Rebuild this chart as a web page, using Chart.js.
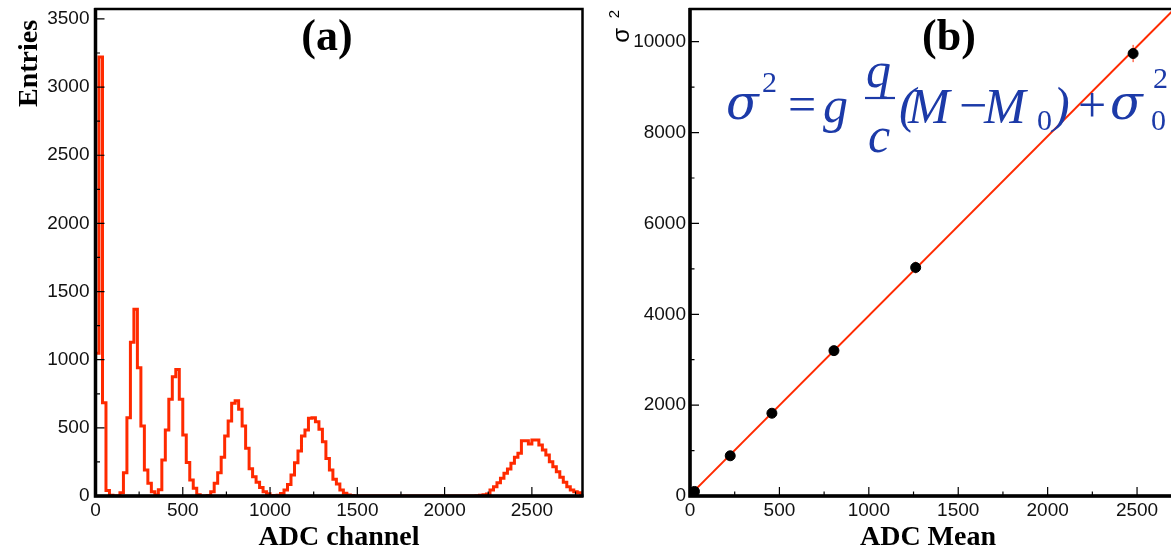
<!DOCTYPE html>
<html>
<head>
<meta charset="utf-8">
<script src="https://cdn.jsdelivr.net/npm/chart.js@4.4.1/dist/chart.umd.min.js"></script>
<style>
  html, body { margin: 0; padding: 0; background: #fff; overflow: hidden; }
  #wrap { position: relative; width: 1171px; height: 550px; overflow: hidden; }
  canvas { position: absolute; top: 0; }
  #histo { left: 0; }
  #fit { left: 600px; }
</style>
</head>
<body>
<div id="wrap">
  <canvas id="histo" width="600" height="550"></canvas>
  <canvas id="fit" width="620" height="550"></canvas>
</div>
<script>
// ---- (a) ADC spectrum: 20-channel bins starting at channel 0 ----
const binWidth = 20;
const entries = [
  1047, 3220, 685, 40, 5, 0, 0, 24, 171, 574,
  1128, 1370, 941, 514, 191, 93, 32, 7, 45, 264,
  484, 709, 875, 929, 709, 447, 245, 117, 56, 10,
  0, 0, 3, 32, 93, 171, 284, 440, 550, 680,
  699, 636, 514, 350, 200, 142, 100, 62, 32, 16,
  4, 2, 6, 18, 44, 85, 154, 244, 330, 440,
  484, 570, 575, 545, 489, 398, 276, 191, 122, 88,
  44, 20, 8, 3, 0, 0, 0, 0, 0, 0,
  0, 0, 0, 0, 0, 0, 0, 0, 0, 0,
  0, 0, 0, 0, 0, 0, 0, 0, 0, 0,
  0, 0, 0, 0, 0, 0, 0, 0, 0, 2,
  5, 10, 15, 44, 68, 98, 130, 166, 198, 240,
  284, 313, 406, 406, 382, 411, 411, 374, 337, 301,
  252, 215, 178, 137, 100, 68, 44, 32, 24, 5
];
const channelTicks = [0, 500, 1000, 1500, 2000, 2500];
const entriesTicks = [0, 500, 1000, 1500, 2000, 2500, 3000, 3500];

// ---- (b) peak variance versus peak mean, with linear fit ----
const adcMean   = [0, 25, 225, 458, 805, 1262, 2478];
const sigma2    = [0, 100, 885, 1822, 3200, 5030, 9740];
const sigma2Err = [15, 20, 40, 60, 90, 130, 190];
const fitMean   = [0, 2800];
const fitSigma2 = [20, 11080];
const meanTicks  = [0, 500, 1000, 1500, 2000, 2500];
const sigmaTicks = [0, 2000, 4000, 6000, 8000, 10000];

const RED = '#ff2a00';
const BLUE = '#1c3aa8';
const SERIF = "'Liberation Serif', 'Times New Roman', serif";
const SANS = "'Liberation Sans', Arial, sans-serif";
const GREEK = "'DejaVu Serif', 'Liberation Serif', serif";

Chart.defaults.font.family = SANS;
Chart.defaults.color = '#000';

// Box frame with ROOT-style inward tick marks
function framePlugin(xMajor, xMinorStep, yMajor, yMinorStep) {
  return {
    id: 'frame',
    afterDatasetsDraw(chart) {
      const { ctx, chartArea: a, scales: { x, y } } = chart;
      ctx.save();
      ctx.strokeStyle = '#000';
      ctx.lineWidth = 1.2;
      ctx.beginPath();
      xMajor.forEach(v => {
        const px = x.getPixelForValue(v);
        ctx.moveTo(px, a.bottom); ctx.lineTo(px, a.bottom - 9);
      });
      for (let v = xMinorStep; v < x.max; v += xMinorStep) {
        if (xMajor.includes(v)) continue;
        const px = x.getPixelForValue(v);
        ctx.moveTo(px, a.bottom); ctx.lineTo(px, a.bottom - 4.5);
      }
      yMajor.forEach(v => {
        const py = y.getPixelForValue(v);
        ctx.moveTo(a.left, py); ctx.lineTo(a.left + 9, py);
      });
      for (let v = yMinorStep; v < y.max; v += yMinorStep) {
        if (yMajor.includes(v)) continue;
        const py = y.getPixelForValue(v);
        ctx.moveTo(a.left, py); ctx.lineTo(a.left + 4.5, py);
      }
      ctx.stroke();
      ctx.lineWidth = 2.5;
      ctx.strokeRect(a.left, a.top, a.right - a.left, a.bottom - a.top);
      ctx.lineWidth = 3.5;
      ctx.beginPath();
      ctx.moveTo(a.left, a.top - 1); ctx.lineTo(a.left, a.bottom);
      ctx.lineTo(a.right + 1, a.bottom);
      ctx.stroke();
      ctx.restore();
    }
  };
}

function text(ctx, str, x, y, font, color, align) {
  ctx.font = font;
  ctx.fillStyle = color;
  ctx.textAlign = align || 'left';
  ctx.textBaseline = 'alphabetic';
  ctx.fillText(str, x, y);
}

function vtext(ctx, str, x, y, font, color, align) {
  ctx.save();
  ctx.translate(x, y);
  ctx.rotate(-Math.PI / 2);
  text(ctx, str, 0, 0, font, color, align);
  ctx.restore();
}

function fixedAxis(size, horizontal) {
  return function (s) {
    if (horizontal) { s.height = size; s.paddingLeft = 0; s.paddingRight = 0; }
    else { s.width = size; s.paddingTop = 0; s.paddingBottom = 0; }
  };
}

function setTicks(values) {
  return function (s) { s.ticks = values.map(v => ({ value: v })); };
}

const plainNumber = v => String(v);

// ---------------- panel (a) ----------------
const histPoints = [{ x: 0, y: 0 }]
  .concat(entries.map((v, i) => ({ x: i * binWidth, y: v })))
  .concat([{ x: entries.length * binWidth, y: 0 }]);

const labelsA = {
  id: 'labelsA',
  afterDraw(chart) {
    const ctx = chart.ctx;
    ctx.save();
    text(ctx, '(a)', 327, 50, 'bold 44px ' + SERIF, '#000', 'center');
    text(ctx, 'ADC channel', 339, 545, 'bold 28px ' + SERIF, '#000', 'center');
    vtext(ctx, 'Entries', 37, 107, 'bold 28px ' + SERIF, '#000', 'left');
    ctx.restore();
  }
};

new Chart(document.getElementById('histo'), {
  type: 'line',
  data: {
    datasets: [{
      data: histPoints,
      stepped: 'before',
      borderColor: RED,
      borderWidth: 3,
      pointRadius: 0,
      fill: false
    }]
  },
  options: {
    responsive: false,
    animation: false,
    devicePixelRatio: 1,
    layout: { padding: { top: 9, right: 17.5, left: 0, bottom: 0 } },
    plugins: { legend: { display: false }, tooltip: { enabled: false } },
    scales: {
      x: {
        type: 'linear', min: 0, max: 2790,
        afterBuildTicks: setTicks(channelTicks),
        afterFit: fixedAxis(54, true),
        grid: { display: false, drawTicks: false },
        border: { display: false },
        ticks: { font: { size: 19 }, padding: 3, maxRotation: 0, color: '#111', callback: plainNumber }
      },
      y: {
        type: 'linear', min: 0, max: 3573,
        afterBuildTicks: setTicks(entriesTicks),
        afterFit: fixedAxis(95.5, false),
        grid: { display: false, drawTicks: false },
        border: { display: false },
        ticks: { font: { size: 19 }, padding: 6, color: '#111', callback: plainNumber }
      }
    }
  },
  plugins: [framePlugin(channelTicks, 250, entriesTicks, 250), labelsA]
});

// ---------------- panel (b) ----------------
const meanPoints = adcMean.map((m, i) => ({ x: m, y: sigma2[i] }));
const fitPoints = fitMean.map((m, i) => ({ x: m, y: fitSigma2[i] }));

const errorBars = {
  id: 'errorBars',
  beforeDatasetsDraw(chart) {
    const { ctx, scales: { x, y } } = chart;
    ctx.save();
    ctx.strokeStyle = RED;
    ctx.lineWidth = 1;
    ctx.beginPath();
    adcMean.forEach((m, i) => {
      const px = x.getPixelForValue(m);
      ctx.moveTo(px, y.getPixelForValue(sigma2[i] - sigma2Err[i]));
      ctx.lineTo(px, y.getPixelForValue(sigma2[i] + sigma2Err[i]));
    });
    ctx.stroke();
    ctx.restore();
  }
};

// sigma^2 = g (q/c)(M - M0) + sigma0^2, set piece by piece
const formula = {
  id: 'formula',
  afterDraw(chart) {
    const ctx = chart.ctx;
    const big = 50, small = 30;
    const it = s => 'italic ' + s + 'px ' + SERIF;
    const up = s => s + 'px ' + SERIF;
    const gr = s => 'italic ' + s + 'px ' + GREEK;
    ctx.save();
    const pieces = [
      ['σ', 126, 119, gr(48)],
      ['2', 162, 92, up(small)],
      ['=', 188, 121, up(big)],
      ['g', 223, 122, it(big)],
      ['q', 266, 87, it(big)],
      ['c', 268, 152, it(big)],
      ['(', 299, 122, it(big)],
      ['M', 308, 123, it(big)],
      ['−', 359, 122, up(big)],
      ['M', 384, 123, it(big)],
      ['0', 437, 130, up(small)],
      [')', 453, 122, it(big)],
      ['+', 478, 122, up(big)],
      ['σ', 510, 119, gr(48)],
      ['2', 553, 88, up(small)],
      ['0', 551, 130, up(small)]
    ];
    pieces.forEach(p => text(ctx, p[0], p[1], p[2], p[3], BLUE, 'left'));
    ctx.strokeStyle = BLUE;
    ctx.lineWidth = 2.2;
    ctx.beginPath();
    ctx.moveTo(265, 98); ctx.lineTo(295, 98);
    ctx.stroke();

    text(ctx, '(b)', 349, 50, 'bold 44px ' + SERIF, '#000', 'center');
    text(ctx, 'ADC Mean', 328, 545, 'bold 28px ' + SERIF, '#000', 'center');
    vtext(ctx, 'σ', 29, 28, '24px ' + SANS, '#000', 'right');
    vtext(ctx, '2', 19, 10, '15px ' + SANS, '#000', 'right');
    ctx.restore();
  }
};

new Chart(document.getElementById('fit'), {
  type: 'scatter',
  data: {
    datasets: [
      {
        type: 'line',
        data: fitPoints,
        borderColor: RED,
        borderWidth: 2,
        pointRadius: 0,
        fill: false,
        order: 2
      },
      {
        data: meanPoints,
        backgroundColor: '#000',
        borderColor: '#000',
        pointRadius: 5,
        pointStyle: 'circle',
        order: 1
      }
    ]
  },
  options: {
    responsive: false,
    animation: false,
    devicePixelRatio: 1,
    layout: { padding: { top: 9, right: 29.3, left: 0, bottom: 0 } },
    plugins: { legend: { display: false }, tooltip: { enabled: false } },
    scales: {
      x: {
        type: 'linear', min: 0, max: 2800,
        afterBuildTicks: setTicks(meanTicks),
        afterFit: fixedAxis(54, true),
        grid: { display: false, drawTicks: false },
        border: { display: false },
        ticks: { font: { size: 19 }, padding: 3, maxRotation: 0, color: '#111', callback: plainNumber }
      },
      y: {
        type: 'linear', min: 0, max: 10720,
        afterBuildTicks: setTicks(sigmaTicks),
        afterFit: fixedAxis(90, false),
        grid: { display: false, drawTicks: false },
        border: { display: false },
        ticks: { font: { size: 19 }, padding: 4, color: '#111', callback: plainNumber }
      }
    }
  },
  plugins: [errorBars, framePlugin(meanTicks, 250, sigmaTicks, 1000), formula]
});
</script>
</body>
</html>
